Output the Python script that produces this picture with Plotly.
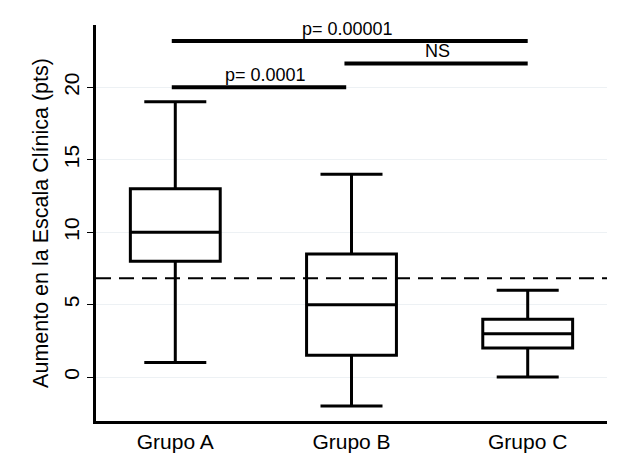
import plotly.graph_objects as go

groups = ["Grupo A", "Grupo B", "Grupo C"]
q1 = [8, 1.5, 2]
median = [10, 5, 3]
q3 = [13, 8.5, 4]
lower = [1, -2, 0]
upper = [19, 14, 6]
threshold = 6.83
# comparison bars: start, end, level, label and label position
comp_from = [-0.02, 0.96, -0.02]
comp_to = [2.0, 2.0, 0.97]
comp_y = [23.2, 21.65, 20.0]
comp_label = ["p= 0.00001", "NS", "p= 0.0001"]
label_x = [0.98, 1.49, 0.51]

fig = go.Figure()
fig.add_trace(go.Box(
    x=groups, q1=q1, median=median, q3=q3, lowerfence=lower, upperfence=upper,
    fillcolor="white", line=dict(color="black", width=3),
    width=0.51, whiskerwidth=0.69, boxpoints=False, hoverinfo="skip",
    showlegend=False,
))

fig.add_shape(type="line", xref="paper", yref="y", x0=0, x1=1,
              y0=threshold, y1=threshold,
              line=dict(color="black", width=2, dash="15px,8px"))

for a, b, y, t, lx in zip(comp_from, comp_to, comp_y, comp_label, label_x):
    fig.add_shape(type="line", xref="x", yref="y", x0=a, x1=b, y0=y, y1=y,
                  line=dict(color="black", width=4))
    fig.add_annotation(x=lx, y=y, xref="x", yref="y", text=t,
                       showarrow=False, yanchor="bottom", yshift=0,
                       font=dict(size=18, color="black"))

fig.update_layout(
    width=625, height=462,
    margin=dict(l=96, r=18, t=25, b=41),
    plot_bgcolor="white", paper_bgcolor="white",
    font=dict(family="Liberation Sans, Arial, sans-serif", color="black", size=21),
    xaxis=dict(range=[-0.45, 2.45], showline=True, linecolor="black", linewidth=3,
               showgrid=False, ticks="", tickfont=dict(size=21), zeroline=False,
               automargin=False),
    yaxis=dict(range=[-3.03, 24.3], showline=True, linecolor="black", linewidth=3,
               showgrid=True, gridcolor="#edf1f4", gridwidth=1,
               tickvals=[0, 5, 10, 15, 20], ticks="outside", ticklen=6,
               tickcolor="black", tickwidth=1, tickangle=-90,
               tickfont=dict(size=21), zeroline=False, automargin=False,
               title=dict(text="Aumento en la Escala Clínica (pts)",
                          font=dict(size=21.5), standoff=6)),
)

fig.write_html("out.html")
